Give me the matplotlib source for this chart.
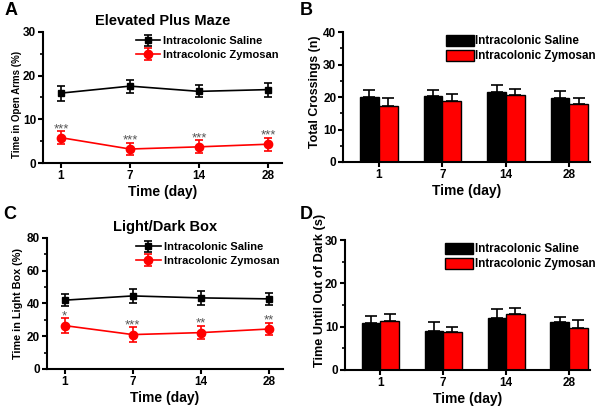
import numpy as np
import matplotlib
matplotlib.use('Agg')
import matplotlib.pyplot as plt
from matplotlib.ticker import MultipleLocator

plt.rcParams['font.family'] = ['Liberation Sans', 'DejaVu Sans']
plt.rcParams['font.weight'] = 'bold'

days = ['1', '7', '14', '28']
labels = ['Intracolonic Saline', 'Intracolonic Zymosan']

# A - Elevated Plus Maze, time in open arms (%)
epm_saline = [16.0, 17.6, 16.4, 16.8]
epm_saline_err = [1.7, 1.5, 1.4, 1.6]
epm_zymosan = [5.8, 3.2, 3.7, 4.3]
epm_zymosan_err = [1.5, 1.4, 1.5, 1.5]
epm_stars = ['***', '***', '***', '***']

# B - total crossings (n)
cross_saline = [20.0, 20.4, 21.6, 19.6]
cross_saline_err = [2.1, 1.9, 2.1, 2.2]
cross_zymosan = [17.3, 18.7, 20.7, 17.8]
cross_zymosan_err = [2.4, 2.1, 1.8, 1.9]

# C - Light/Dark box, time in light box (%)
ldb_saline = [42.0, 44.6, 43.4, 42.8]
ldb_saline_err = [3.8, 4.1, 4.3, 3.8]
ldb_zymosan = [26.5, 21.0, 22.2, 24.4]
ldb_zymosan_err = [4.5, 4.6, 4.1, 3.9]
ldb_stars = ['*', '***', '**', '**']

# D - time until out of dark (s)
dark_saline = [10.8, 9.1, 12.1, 11.0]
dark_saline_err = [1.7, 1.9, 2.1, 1.3]
dark_zymosan = [11.3, 8.7, 13.0, 9.8]
dark_zymosan_err = [1.7, 1.2, 1.4, 1.7]


def style_axes(ax, ymax, ystep, ylabel, ylab):
    # ylab = (size, x, y) for the y label
    ax.spines['top'].set_visible(False)
    ax.spines['right'].set_visible(False)
    ax.spines['left'].set_linewidth(1.5)
    ax.spines['bottom'].set_linewidth(1.5)
    ax.set_ylim(0, ymax)
    ax.yaxis.set_major_locator(MultipleLocator(ystep))
    ax.yaxis.set_minor_locator(MultipleLocator(ystep / 2))
    ax.tick_params(axis='both', which='major', direction='out', length=3.5, width=1.5,
                   labelsize=8.5, pad=1.5)
    ax.tick_params(axis='y', which='minor', direction='out', length=2, width=1.2)
    ax.set_xticks(range(len(days)))
    ax.set_xticklabels(days)
    ax.set_xlabel('Time (day)', fontsize=10, fontweight='bold', labelpad=2)
    size, lx, ly = ylab
    ax.set_ylabel(ylabel, fontsize=size, fontweight='bold')
    ax.yaxis.set_label_coords(lx, ly)


def line_panel(ax, sal, sal_err, zym, zym_err, stars, ymax, ystep, ylabel, ylab, title):
    x = np.arange(len(days))
    ax.errorbar(x, sal, yerr=sal_err, color='black', marker='s', ms=5, lw=1.2,
                capsize=3, elinewidth=1.2, capthick=1.2, label=labels[0])
    ax.errorbar(x, zym, yerr=zym_err, color='red', marker='o', ms=6, lw=1.2,
                capsize=3, elinewidth=1.2, capthick=1.2, ecolor='red', label=labels[1])
    for i, s in enumerate(stars):
        ax.annotate(s, (x[i], zym[i] + zym_err[i]), xytext=(0, 1.5), textcoords='offset points',
                    ha='center', va='center', fontsize=9.5, color='#555555',
                    fontweight='normal', zorder=5)
    style_axes(ax, ymax, ystep, ylabel, ylab)
    ax.set_xlim(-0.26, 3.2)
    ax.set_title(title, fontsize=10.5, fontweight='bold', pad=5)
    leg = ax.legend(loc='upper right', bbox_to_anchor=(1.03, 1.045), frameon=False,
                    fontsize=8, handlelength=2.2, handletextpad=0.3, labelspacing=0.35)
    for t in leg.get_texts():
        t.set_fontweight('bold')


def bar_panel(ax, sal, sal_err, zym, zym_err, ymax, ystep, ylabel, ylab):
    x = np.arange(len(days))
    w = 0.295
    ax.bar(x - w / 2, sal, w, color='black', edgecolor='black', lw=1,
           yerr=[np.zeros(len(sal)), sal_err], capsize=4,
           error_kw=dict(ecolor='black', elinewidth=1.2, capthick=1.2), label=labels[0])
    ax.bar(x + w / 2, zym, w, color='red', edgecolor='black', lw=1,
           yerr=[np.zeros(len(zym)), zym_err], capsize=4,
           error_kw=dict(ecolor='black', elinewidth=1.2, capthick=1.2), label=labels[1])
    style_axes(ax, ymax, ystep, ylabel, ylab)
    ax.set_xlim(-0.56, 3.33)
    leg = ax.legend(loc='upper right', bbox_to_anchor=(1.065, 1.06), frameon=False,
                    fontsize=8.4, handlelength=2.4, handleheight=1.1, handletextpad=0.1,
                    labelspacing=0.2)
    for t in leg.get_texts():
        t.set_fontweight('bold')


fig = plt.figure(figsize=(6, 4.07), dpi=100)
axA = fig.add_axes([0.0717, 0.5995, 0.398, 0.322])
axB = fig.add_axes([0.572, 0.602, 0.412, 0.319])
axC = fig.add_axes([0.078, 0.0934, 0.393, 0.322])
axD = fig.add_axes([0.575, 0.091, 0.408, 0.319])

line_panel(axA, epm_saline, epm_saline_err, epm_zymosan, epm_zymosan_err, epm_stars,
           30, 10, 'Time in Open Arms (%)', (7.0, -0.09, 0.447), 'Elevated Plus Maze')
bar_panel(axB, cross_saline, cross_saline_err, cross_zymosan, cross_zymosan_err,
          40, 10, 'Total Crossings (n)', (8.9, -0.088, 0.54))
line_panel(axC, ldb_saline, ldb_saline_err, ldb_zymosan, ldb_zymosan_err, ldb_stars,
           80, 20, 'Time in Light Box (%)', (7.8, -0.1, 0.5), 'Light/Dark Box')
bar_panel(axD, dark_saline, dark_saline_err, dark_zymosan, dark_zymosan_err,
          30, 10, 'Time Until Out of Dark (s)', (9.2, -0.078, 0.61))

for letter, (px, py) in zip('ABCD', [(0.008, 0.995), (0.5, 0.995), (0.005, 0.495), (0.5, 0.495)]):
    fig.text(px, py, letter, fontsize=13, fontweight='bold', ha='left', va='top')

fig.savefig('out.png', dpi=100)
